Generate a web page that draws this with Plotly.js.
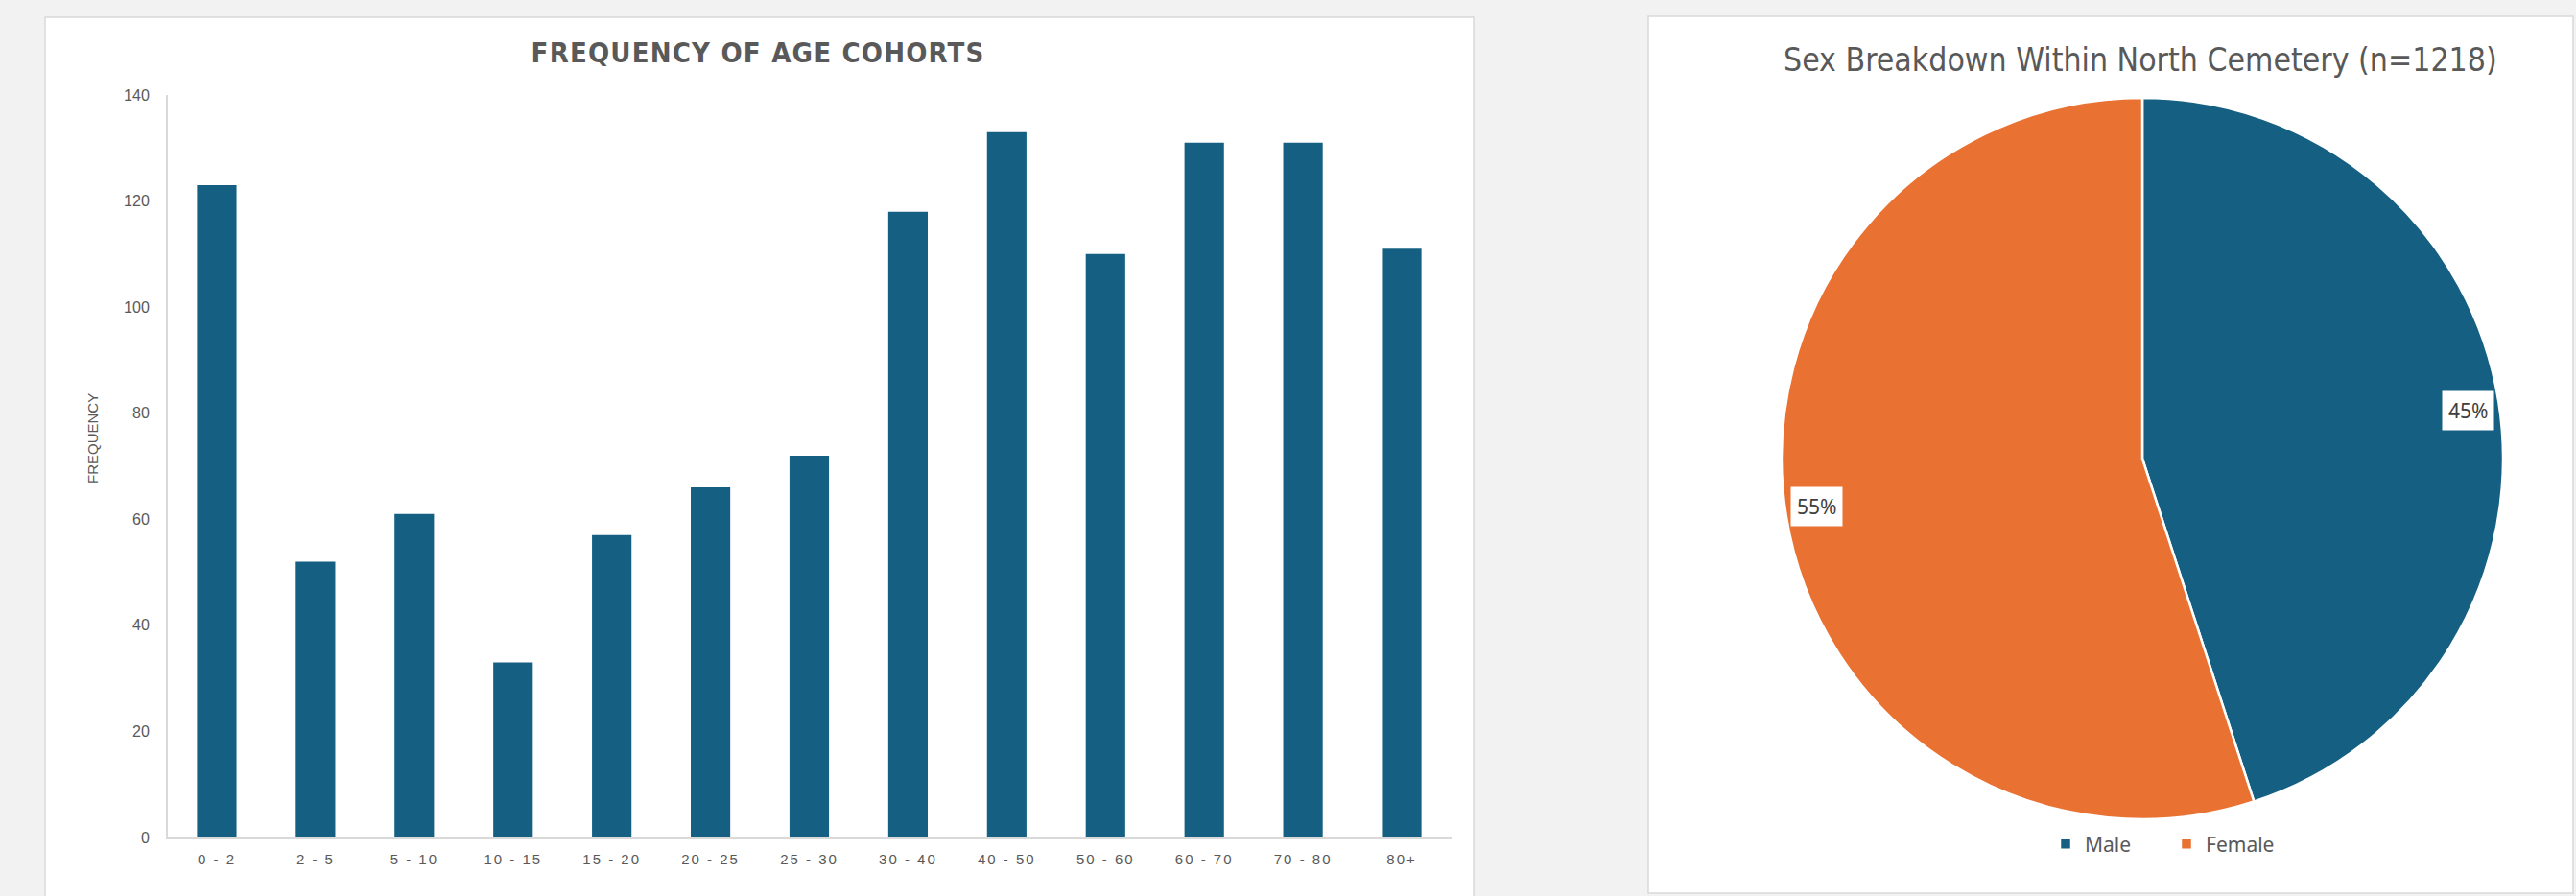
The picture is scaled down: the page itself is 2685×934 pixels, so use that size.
<!DOCTYPE html>
<html>
<head>
<meta charset="utf-8">
<script src="https://cdn.plot.ly/plotly-3.0.1.min.js"></script>
<style>
  html, body { margin: 0; padding: 0; background: #f2f2f2; }
  #chart { width: 2685px; height: 934px; }
  .annotation[data-index="0"] text { letter-spacing: 1.2px; }
  .xtick text { letter-spacing: 2px; }
</style>
</head>
<body>
<div id="chart"></div>
<script>
// ---- data ----
const ageCohorts = ["0 - 2","2 - 5","5 - 10","10 - 15","15 - 20","20 - 25","25 - 30","30 - 40","40 - 50","50 - 60","60 - 70","70 - 80","80+"];
const frequency = [123, 52, 61, 33, 57, 66, 72, 118, 133, 110, 131, 131, 111];
const yTickValues = [0, 20, 40, 60, 80, 100, 120, 140];
const sexLabels = ["Male", "Female"];
const sexCounts = [548, 670];
const sexColors = ["#156082", "#E97132"];
const barTitle = "FREQUENCY OF AGE COHORTS";
const yTitle = "FREQUENCY";
const pieTitle = "Sex Breakdown Within North Cemetery (n=1218)";

// ---- geometry (px) ----
const W = 2685, H = 934;
const px = v => v / W;
const py = v => 1 - v / H;
const NARROW = "'Liberation Sans Narrow', 'DejaVu Sans Condensed', 'Arial Narrow', sans-serif";
const REG = "'Liberation Sans', Arial, sans-serif";
const SOFT = "'Noto Sans', 'Open Sans', sans-serif";
const GRAY = "#595959";

const pieCx = 2233, pieCy = 478, pieR = 376;

const total = sexCounts.reduce((a, b) => a + b, 0);
let cum = 0;
const pieLabelAnns = sexCounts.map((v, i) => {
  const mid = (cum + v / 2) / total * 2 * Math.PI;
  cum += v;
  const r = pieR * 0.915;
  return {
    xref: 'paper', yref: 'paper',
    x: px(pieCx + r * Math.sin(mid)), y: py(pieCy - r * Math.cos(mid) * 0.92),
    xanchor: 'center', yanchor: 'middle',
    text: Math.round(v / total * 100) + '%',
    showarrow: false, bgcolor: '#ffffff', borderpad: 6,
    font: { family: SOFT, size: 21, color: '#404040' }
  };
});

const data = [
  {
    type: 'bar', x: ageCohorts, y: frequency,
    marker: { color: '#156082' },
    xaxis: 'x', yaxis: 'y', showlegend: false, hoverinfo: 'none'
  },
  {
    type: 'pie', labels: sexLabels, values: sexCounts,
    marker: { colors: sexColors, line: { color: '#ffffff', width: 2.5 } },
    sort: false, direction: 'clockwise', rotation: 0,
    textinfo: 'none', hoverinfo: 'none',
    domain: { x: [px(pieCx - pieR), px(pieCx + pieR)], y: [py(pieCy + pieR), py(pieCy - pieR)] }
  }
];

const layout = {
  width: W, height: H,
  margin: { l: 0, r: 0, t: 0, b: 0 },
  paper_bgcolor: '#f2f2f2', plot_bgcolor: 'rgba(0,0,0,0)',
  bargap: 0.6,
  showlegend: true,
  xaxis: {
    domain: [px(174.5), px(1512.5)],
    type: 'category', range: [-0.5, ageCohorts.length - 0.5],
    showline: true, linecolor: '#d9d9d9', linewidth: 1.5,
    showgrid: false, zeroline: false, ticks: '',
    ticklabelstandoff: 8,
    tickfont: { family: REG, size: 15, color: GRAY },
    fixedrange: true
  },
  yaxis: {
    domain: [py(873), py(99)],
    range: [0, 140], tickvals: yTickValues,
    showline: true, linecolor: '#d9d9d9', linewidth: 1.5,
    showgrid: false, zeroline: false, ticks: '',
    ticklabelstandoff: 14,
    tickfont: { family: REG, size: 16, color: GRAY },
    fixedrange: true
  },
  legend: {
    orientation: 'h', x: px(2259), xanchor: 'center', y: py(880), yanchor: 'middle',
    font: { family: SOFT, size: 21, color: GRAY },
    bgcolor: 'rgba(0,0,0,0)', entrywidth: 81, entrywidthmode: 'pixels'
  },
  shapes: [
    { type: 'rect', xref: 'paper', yref: 'paper', x0: px(47), x1: px(1536), y0: py(960), y1: py(18),
      fillcolor: '#ffffff', line: { color: '#d9d9d9', width: 1.5 }, layer: 'below' },
    { type: 'rect', xref: 'paper', yref: 'paper', x0: px(1718), x1: px(2682), y0: py(931), y1: py(17),
      fillcolor: '#ffffff', line: { color: '#d9d9d9', width: 1.5 }, layer: 'below' }
  ],
  annotations: [
    { xref: 'paper', yref: 'paper', x: px(790), y: py(55), xanchor: 'center', yanchor: 'middle',
      text: barTitle, showarrow: false,
      font: { family: NARROW, size: 29, weight: 'bold', color: GRAY } },
    { xref: 'paper', yref: 'paper', x: px(2231), y: py(62), xanchor: 'center', yanchor: 'middle',
      text: pieTitle, showarrow: false,
      font: { family: NARROW, size: 33.5, color: GRAY } },
    { xref: 'paper', yref: 'paper', x: px(97), y: py(457), xanchor: 'center', yanchor: 'middle',
      text: yTitle, textangle: -90, showarrow: false,
      font: { family: REG, size: 15, color: GRAY } }
  ].concat(pieLabelAnns)
};

Plotly.newPlot('chart', data, layout, { staticPlot: true, displayModeBar: false });
</script>
</body>
</html>
